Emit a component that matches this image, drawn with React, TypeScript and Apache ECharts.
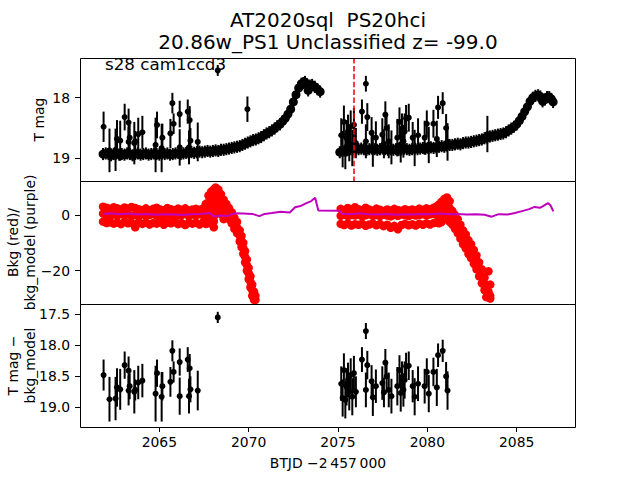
import { useEffect, useRef } from "react";
import * as echarts from "echarts";

const titleLine1 = "AT2020sql  PS20hci";
const titleLine2 = "20.86w_PS1 Unclassified z= -99.0";
const sectorLabel = "s28 cam1ccd3";
const xTitle = "BTJD \u22122\u2009457\u2009000";
const xTicks = [2065, 2070, 2075, 2080, 2085];
const magTicks = [18, 19];
const bkgTicks = [0, -20];
const diffTicks = [17.5, 18.0, 18.5, 19.0];
const discoveryT = 2075.87;

// dense light-curve band, [BTJD, T mag]
const bandSeg1: [number, number][] = [
  [2061.85, 18.93], [2062.0, 18.92], [2062.15, 18.93], [2062.3, 18.95], [2062.45, 18.93],
  [2062.6, 18.92], [2062.75, 18.94], [2062.9, 18.93], [2063.05, 18.94], [2063.2, 18.92],
  [2063.35, 18.93], [2063.5, 18.95], [2063.65, 18.93], [2063.8, 18.92], [2063.95, 18.94],
  [2064.1, 18.93], [2064.25, 18.92], [2064.4, 18.94], [2064.55, 18.93], [2064.7, 18.92],
  [2064.85, 18.93], [2065.0, 18.94], [2065.15, 18.92], [2065.3, 18.93], [2065.45, 18.92],
  [2065.6, 18.94], [2065.75, 18.93], [2065.9, 18.92], [2066.05, 18.91], [2066.2, 18.93],
  [2066.35, 18.92], [2066.5, 18.91], [2066.65, 18.92], [2066.8, 18.9], [2066.95, 18.91],
  [2067.1, 18.9], [2067.25, 18.89], [2067.4, 18.9], [2067.55, 18.89], [2067.7, 18.88],
  [2067.85, 18.89], [2068.0, 18.88], [2068.15, 18.87], [2068.3, 18.88], [2068.45, 18.86],
  [2068.6, 18.86], [2068.75, 18.85], [2068.9, 18.84], [2069.05, 18.83], [2069.2, 18.82],
  [2069.35, 18.81], [2069.5, 18.8], [2069.65, 18.78], [2069.8, 18.76], [2069.95, 18.74],
  [2070.1, 18.72], [2070.25, 18.7], [2070.4, 18.69], [2070.55, 18.67], [2070.7, 18.65],
  [2070.85, 18.62], [2071.0, 18.59], [2071.15, 18.57], [2071.3, 18.54], [2071.45, 18.51],
  [2071.6, 18.47], [2071.75, 18.44], [2071.9, 18.39], [2072.05, 18.34], [2072.2, 18.27],
  [2072.35, 18.19], [2072.5, 18.07], [2072.65, 17.95], [2072.8, 17.84], [2072.95, 17.77],
  [2073.05, 17.76], [2073.15, 17.74], [2073.25, 17.78], [2073.33, 17.88], [2073.42, 17.8],
  [2073.55, 17.79], [2073.7, 17.82], [2073.85, 17.86], [2074.0, 17.9],
];
const bandSeg2: [number, number][] = [
  [2075.1, 18.9], [2075.25, 18.88], [2075.4, 18.87], [2075.55, 18.86], [2075.7, 18.85],
  [2075.85, 18.85], [2076.0, 18.84], [2076.15, 18.85], [2076.3, 18.84], [2076.45, 18.85],
  [2076.6, 18.86], [2076.75, 18.85], [2076.9, 18.84], [2077.05, 18.85], [2077.2, 18.86],
  [2077.35, 18.85], [2077.5, 18.84], [2077.65, 18.85], [2077.8, 18.86], [2077.95, 18.85],
  [2078.1, 18.86], [2078.25, 18.85], [2078.4, 18.86], [2078.55, 18.85], [2078.7, 18.84],
  [2078.85, 18.85], [2079.0, 18.86], [2079.15, 18.85], [2079.3, 18.84], [2079.45, 18.85],
  [2079.6, 18.84], [2079.75, 18.83], [2079.9, 18.84], [2080.05, 18.83], [2080.2, 18.82],
  [2080.35, 18.83], [2080.5, 18.82], [2080.65, 18.81], [2080.8, 18.8], [2080.95, 18.81],
  [2081.1, 18.79], [2081.25, 18.78], [2081.4, 18.78], [2081.55, 18.77], [2081.7, 18.76],
  [2081.85, 18.77], [2082.0, 18.75], [2082.15, 18.74], [2082.3, 18.74], [2082.45, 18.73],
  [2082.6, 18.72], [2082.75, 18.71], [2082.9, 18.7], [2083.05, 18.69], [2083.2, 18.67],
  [2083.35, 18.66], [2083.5, 18.64], [2083.65, 18.63], [2083.8, 18.62], [2083.95, 18.61],
  [2084.1, 18.6], [2084.25, 18.59], [2084.4, 18.57], [2084.55, 18.54], [2084.7, 18.51],
  [2084.85, 18.48], [2085.0, 18.44], [2085.15, 18.38], [2085.3, 18.31], [2085.45, 18.23],
  [2085.6, 18.15], [2085.75, 18.06], [2085.9, 18.0], [2086.05, 17.97], [2086.2, 17.96],
  [2086.32, 17.98], [2086.45, 18.06], [2086.58, 18.03], [2086.7, 17.99], [2086.82, 17.99],
  [2086.94, 18.02], [2087.04, 18.07],
];
const bandErr = 0.1;

// isolated points with errors, [BTJD, mag, err] (T mag - bkg_model, also seen in T mag)
const outliers: [number, number, number][] = [
  [2061.88, 18.48, 0.25], [2062.21, 18.87, 0.36], [2062.55, 18.86, 0.35], [2062.63, 18.68, 0.31],
  [2062.81, 18.71, 0.33], [2063.06, 18.32, 0.22], [2063.28, 18.41, 0.23], [2063.28, 18.73, 0.24],
  [2063.34, 18.66, 0.21], [2063.6, 18.75, 0.35], [2063.65, 18.72, 0.17], [2063.82, 18.6, 0.27],
  [2064.05, 18.57, 0.27], [2064.79, 18.78, 0.45], [2064.87, 18.45, 0.22], [2065.13, 18.83, 0.4],
  [2065.17, 18.66, 0.23], [2065.62, 18.59, 0.24], [2065.73, 18.09, 0.17], [2065.8, 18.43, 0.17],
  [2066.14, 18.27, 0.22], [2066.14, 18.82, 0.3], [2066.59, 18.23, 0.2], [2066.66, 18.82, 0.28],
  [2066.7, 18.37, 0.23], [2066.74, 18.71, 0.21], [2067.15, 18.73, 0.32], [2068.27, 17.55, 0.09],
  [2075.18, 18.62, 0.28], [2075.26, 18.85, 0.3], [2075.33, 18.4, 0.27], [2075.41, 18.88, 0.3],
  [2075.48, 18.67, 0.3], [2075.56, 18.56, 0.28], [2075.63, 18.75, 0.3], [2075.71, 18.48, 0.27],
  [2075.8, 18.83, 0.3], [2075.89, 18.45, 0.28], [2076.0, 18.75, 0.25], [2076.34, 18.23, 0.2],
  [2076.56, 17.77, 0.13], [2076.56, 18.72, 0.28], [2076.64, 18.32, 0.23], [2076.88, 18.58, 0.26],
  [2076.95, 18.84, 0.3], [2077.12, 18.66, 0.27], [2077.48, 18.61, 0.27], [2077.57, 18.76, 0.24],
  [2077.65, 18.28, 0.22], [2077.72, 18.5, 0.22], [2077.84, 18.72, 0.28], [2077.99, 18.82, 0.28],
  [2078.32, 18.66, 0.31], [2078.44, 18.4, 0.24], [2078.51, 18.77, 0.3], [2078.58, 18.52, 0.26],
  [2078.66, 18.72, 0.27], [2078.73, 18.56, 0.3], [2078.81, 18.34, 0.22], [2078.96, 18.33, 0.23],
  [2079.18, 18.66, 0.26], [2079.29, 18.83, 0.3], [2079.48, 18.62, 0.28], [2079.85, 18.66, 0.28],
  [2079.97, 18.43, 0.22], [2080.08, 18.78, 0.3], [2080.34, 18.43, 0.23], [2080.53, 18.68, 0.3],
  [2080.6, 18.16, 0.19], [2080.86, 18.09, 0.18], [2081.05, 18.5, 0.23], [2081.13, 18.73, 0.31],
];
const extraTmag: [number, number, number][] = [
  [2069.93, 18.19, 0.21], [2083.36, 18.6, 0.3],
];

// background flux: [BTJD, values...]
const bkgRows1: number[][] = [
  [2061.85, 3.0, 0.5, -2.4], [2062.05, 2.6, 0.0, -2.9], [2062.25, 2.2, -0.4, -2.6],
  [2062.45, 2.8, 0.3, -3.1], [2062.65, 2.4, -0.2, -2.7], [2062.85, 2.0, 0.4, -3.3],
  [2063.05, 2.7, -0.1, -2.5], [2063.25, 2.3, 0.2, -3.0], [2063.45, 2.9, -0.3, -2.8],
  [2063.65, 2.5, 0.1, -4.4], [2063.85, 2.1, -0.5, -2.6], [2064.05, 1.8, 0.3, -3.2],
  [2064.25, 2.4, -0.2, -2.7], [2064.45, 1.6, 0.0, -3.4], [2064.65, 2.2, 0.4, -2.9],
  [2064.85, 2.6, -0.3, -3.1], [2065.05, 2.0, 0.1, -2.6], [2065.25, 1.7, -0.4, -3.5],
  [2065.45, 2.5, 0.2, -2.8], [2065.65, 2.1, -0.1, -3.0], [2065.85, 1.8, 0.3, -2.5],
  [2066.05, 2.3, -0.2, -3.3], [2066.25, 1.9, 0.0, -2.9], [2066.45, 2.4, 0.4, -3.6],
  [2066.65, 1.6, -0.3, -2.7], [2066.85, 2.0, 0.2, -3.1], [2067.05, 2.2, -0.1, -2.8],
  [2067.25, 1.9, 0.3, -3.4], [2067.45, 2.4, 0.0, -2.6],
  [2067.6, 4.0, 1.5, -1.0, -3.2], [2067.75, 7.0, 4.5, 2.0, -0.5, -3.0],
  [2067.9, 8.4, 6.0, 3.5, 1.0, -1.5], [2068.05, 9.2, 7.0, 4.5, 2.0, -0.5, -2.3, -4.4],
  [2068.15, 9.9, 7.5, 5.0, 2.5, 0.5], [2068.3, 9.2, 6.8, 4.3, 1.8],
  [2068.45, 7.5, 5.0, 2.5, 0.3], [2068.6, 5.5, 3.0, 0.5, -1.5],
  [2068.75, 4.0, 2.0, 0.0], [2068.9, 2.5, 0.5, -1.5], [2069.05, 1.0, -1.0, -3.0],
  [2069.2, -1.0, -3.0, -5.0], [2069.35, -2.5, -4.5, -6.5], [2069.5, -5.5, -7.5, -9.5],
  [2069.6, -7.5, -9.5, -11.5], [2069.7, -10.0, -12.0, -14.0], [2069.8, -13.0, -15.0, -17.0],
  [2069.9, -16.0, -18.0, -20.0], [2070.0, -19.0, -21.0, -23.0], [2070.1, -22.0, -24.0, -26.0],
  [2070.2, -25.0, -27.0, -29.0], [2070.3, -27.5, -29.5, -30.5], [2070.38, -29.0, -30.5],
];
const bkgRows2: number[][] = [
  [2075.15, 2.2, -0.3, -3.2], [2075.35, 1.8, 0.1, -3.6], [2075.55, 2.5, -0.4, -3.0],
  [2075.75, 1.6, 0.0, -3.8], [2075.95, 2.8, -0.2, -3.3], [2076.15, 2.1, 0.2, -3.5],
  [2076.35, 1.7, -0.5, -3.1], [2076.55, 2.6, -0.1, -3.9], [2076.75, 2.0, 0.3, -3.4],
  [2076.95, 1.5, -0.3, -3.0], [2077.15, 2.3, 0.0, -3.7], [2077.35, 1.9, -0.4, -3.2],
  [2077.55, 1.4, 0.1, -4.0], [2077.75, 2.0, -0.2, -3.5], [2077.95, 1.6, -0.5, -4.6],
  [2078.15, 2.2, 0.0, -3.9], [2078.35, 1.8, -0.3, -5.1], [2078.55, 1.5, 0.2, -3.6],
  [2078.75, 2.1, -0.1, -3.2], [2078.95, 1.7, -0.4, -3.7], [2079.15, 2.0, 0.1, -3.3],
  [2079.35, 1.6, -0.2, -3.8], [2079.55, 2.3, 0.0, -3.1], [2079.75, 1.9, 0.3, -3.5],
  [2079.95, 2.4, -0.1, -3.0], [2080.15, 2.1, 0.2, -3.4], [2080.35, 2.6, 0.4, -2.9],
  [2080.5, 3.0, 0.6, -2.6], [2080.65, 3.8, 1.5, -1.0, -3.0], [2080.8, 4.8, 2.5, 0.0, -2.5],
  [2080.95, 5.8, 3.5, 1.0, -1.5], [2081.1, 6.3, 4.0, 1.5, -1.0], [2081.25, 5.0, 2.5, 0.0, -2.5],
  [2081.4, 1.5, -1.0, -3.5], [2081.55, 0.0, -2.5, -5.0], [2081.7, -1.5, -4.0, -6.5],
  [2081.85, -3.5, -6.0, -8.5], [2082.0, -5.5, -8.0, -10.5], [2082.15, -7.0, -9.5, -12.0],
  [2082.3, -9.0, -11.5, -14.0], [2082.45, -10.5, -13.0, -15.5], [2082.6, -12.5, -15.0, -17.5],
  [2082.75, -14.5, -17.0, -19.5], [2082.9, -17.0, -19.5, -22.0], [2083.05, -19.5, -22.0, -24.5],
  [2083.2, -22.5, -25.0, -27.0], [2083.3, -25.0, -27.5, -29.5], [2083.42, -27.5, -29.5, -20.2],
  [2083.52, -29.0, -30.0, -25.0],
];

// background model (purple line)
const modelLine: [number, number][] = [
  [2061.85, 0.4], [2062.3, 0.6], [2062.8, 0.3], [2063.3, 0.5], [2063.8, 0.2], [2064.3, 0.4],
  [2064.8, 0.1], [2065.3, 0.3], [2065.8, 0.2], [2066.3, 0.0], [2066.8, 0.3], [2067.3, 0.4],
  [2067.8, 0.7], [2068.05, -0.5], [2068.4, -0.2], [2068.8, -0.4], [2069.2, 0.6], [2069.7, 0.5],
  [2070.2, 0.4], [2070.6, -0.4], [2070.9, 0.4], [2071.3, 0.7], [2071.8, 1.2], [2072.3, 0.9],
  [2072.6, 2.8], [2072.9, 3.2], [2073.2, 4.2], [2073.5, 5.0], [2073.72, 6.2], [2073.9, 1.6],
  [2075.1, 1.5], [2075.2, 0.5], [2075.7, 0.3], [2076.2, 0.6], [2076.7, 0.3], [2077.2, 0.2],
  [2077.7, 0.4], [2078.2, 0.1], [2078.7, 0.3], [2079.2, 0.2], [2079.7, 0.4], [2080.2, 0.3],
  [2080.7, 0.5], [2081.2, 0.3], [2081.7, 0.4], [2082.2, 0.2], [2082.7, 0.3], [2083.2, 0.1],
  [2083.6, -0.6], [2084.0, 0.3], [2084.5, 0.2], [2084.9, 0.7], [2085.3, 1.4], [2085.7, 2.1],
  [2086.0, 2.9], [2086.3, 2.6], [2086.5, 3.3], [2086.75, 4.3], [2086.9, 3.4], [2087.05, 1.3],
];

const FONT = '"DejaVu Sans", sans-serif';

export default function App() {
  const ref = useRef<HTMLDivElement>(null);
  useEffect(() => {
    if (!ref.current) return;
    const chart = echarts.init(ref.current, undefined, { renderer: "svg" });

    const bandPts = [...bandSeg1, ...bandSeg2];
    const bandErrData = bandPts.map(([t, m]) => [t, m, bandErr]);
    const tmagOut = [...outliers, ...extraTmag];
    const bkgPts = [...bkgRows1, ...bkgRows2].flatMap((r) => r.slice(1).map((v) => [r[0], v]));

    const errRender = (params: any, api: any) => {
      const t = api.value(0), m = api.value(1), e = api.value(2);
      const a = api.coord([t, m - e]);
      const b = api.coord([t, m + e]);
      return {
        type: "line",
        shape: { x1: a[0], y1: a[1], x2: b[0], y2: b[1] },
        style: { stroke: "#000", lineWidth: 2 },
      };
    };

    const minus = (v: number) => (v < 0 ? "\u2212" + Math.abs(v) : String(v));
    const labelBase = { color: "#000", fontFamily: FONT, fontSize: 13.9, margin: 10 };
    const tickBase = { show: true, length: 5, lineStyle: { color: "#000", width: 1 } };

    const grids = [
      { left: 80, top: 58, width: 496, height: 123 },
      { left: 80, top: 181, width: 496, height: 123 },
      { left: 80, top: 304, width: 496, height: 123 },
    ];
    const xAxes = [0, 1, 2].map((i) => ({
      type: "value",
      gridIndex: i,
      min: 2060.56,
      max: 2088.32,
      splitLine: { show: false },
      axisLine: { show: false },
      axisTick: i === 2 ? { ...tickBase, customValues: xTicks } : { show: false },
      axisLabel:
        i === 2
          ? { ...labelBase, margin: 8, customValues: xTicks, formatter: (v: number) => String(v) }
          : { show: false },
    }));
    const yAxes = [
      {
        type: "value", gridIndex: 0, inverse: true, min: 17.345, max: 19.375,
        splitLine: { show: false }, axisLine: { show: false },
        axisTick: { ...tickBase, customValues: magTicks },
        axisLabel: { ...labelBase, customValues: magTicks, formatter: (v: number) => String(v) },
      },
      {
        type: "value", gridIndex: 1, min: -31.96, max: 12.21,
        splitLine: { show: false }, axisLine: { show: false },
        axisTick: { ...tickBase, customValues: bkgTicks },
        axisLabel: { ...labelBase, customValues: bkgTicks, formatter: minus },
      },
      {
        type: "value", gridIndex: 2, inverse: true, min: 17.334, max: 19.318,
        splitLine: { show: false }, axisLine: { show: false },
        axisTick: { ...tickBase, customValues: diffTicks },
        axisLabel: { ...labelBase, customValues: diffTicks, formatter: (v: number) => v.toFixed(1) },
      },
    ];

    const frame = (y: number) => ({
      type: "rect",
      z: 100,
      silent: true,
      shape: { x: 80.5, y: y + 0.5, width: 495, height: 123 },
      style: { fill: "none", stroke: "#000", lineWidth: 1 },
    });
    const txt = (text: string, x: number, y: number, size: number, rot = 0, align = "center") => ({
      type: "text",
      z: 110,
      silent: true,
      x,
      y,
      rotation: rot,
      style: {
        text,
        font: `${size}px ${FONT}`,
        fill: "#000",
        textAlign: align,
        textVerticalAlign: "middle",
        align,
        verticalAlign: "middle",
      },
    });
    const R = Math.PI / 2;

    chart.setOption({
      animation: false,
      backgroundColor: "#fff",
      grid: grids,
      xAxis: xAxes,
      yAxis: yAxes,
      graphic: {
        elements: [
          frame(58), frame(181), frame(304),
          txt(titleLine1, 328, 20, 20),
          txt(titleLine2, 328, 42, 20),
          txt(sectorLabel, 105, 64, 16.7, 0, "left"),
          txt("T mag", 39, 119.5, 13.9, R),
          txt("Bkg (red)/", 13, 242.5, 13.9, R),
          txt("bkg_model (purple)", 29.5, 242.5, 13.9, R),
          txt("T mag \u2212", 13, 365.5, 13.9, R),
          txt("bkg_model", 29.5, 365.5, 13.9, R),
          txt(xTitle, 328, 463, 13.9),
        ],
      },
      series: [
        {
          type: "custom", xAxisIndex: 0, yAxisIndex: 0, clip: true, silent: true,
          renderItem: errRender, data: bandErrData, encode: { x: 0, y: 1 },
        },
        {
          type: "scatter", xAxisIndex: 0, yAxisIndex: 0, clip: true, silent: true,
          symbolSize: 9, itemStyle: { color: "#000", opacity: 1 }, data: bandPts,
        },
        {
          type: "custom", xAxisIndex: 0, yAxisIndex: 0, clip: true, silent: true,
          renderItem: errRender, data: tmagOut, encode: { x: 0, y: 1 },
        },
        {
          type: "scatter", xAxisIndex: 0, yAxisIndex: 0, clip: true, silent: true,
          symbolSize: 6, itemStyle: { color: "#000", opacity: 1 },
          data: tmagOut.map((d) => [d[0], d[1]]),
          markLine: {
            silent: true, symbol: "none", label: { show: false },
            lineStyle: { color: "#ff0000", width: 1.5, type: [5.5, 2.4], opacity: 1 },
            data: [{ xAxis: discoveryT }],
          },
        },
        {
          type: "scatter", xAxisIndex: 1, yAxisIndex: 1, clip: true, silent: true,
          symbolSize: 8.5, itemStyle: { color: "#ff0000", opacity: 1 }, data: bkgPts,
        },
        {
          type: "line", xAxisIndex: 1, yAxisIndex: 1, clip: true, silent: true,
          showSymbol: false, lineStyle: { color: "#bf00bf", width: 2 }, data: modelLine, z: 3,
        },
        {
          type: "custom", xAxisIndex: 2, yAxisIndex: 2, clip: true, silent: true,
          renderItem: errRender, data: outliers, encode: { x: 0, y: 1 },
        },
        {
          type: "scatter", xAxisIndex: 2, yAxisIndex: 2, clip: true, silent: true,
          symbolSize: 6, itemStyle: { color: "#000", opacity: 1 }, data: outliers.map((d) => [d[0], d[1]]),
        },
      ],
    });
    return () => chart.dispose();
  }, []);
  return <div ref={ref} style={{ width: 640, height: 480, position: "absolute", left: 0, top: 0 }} />;
}
